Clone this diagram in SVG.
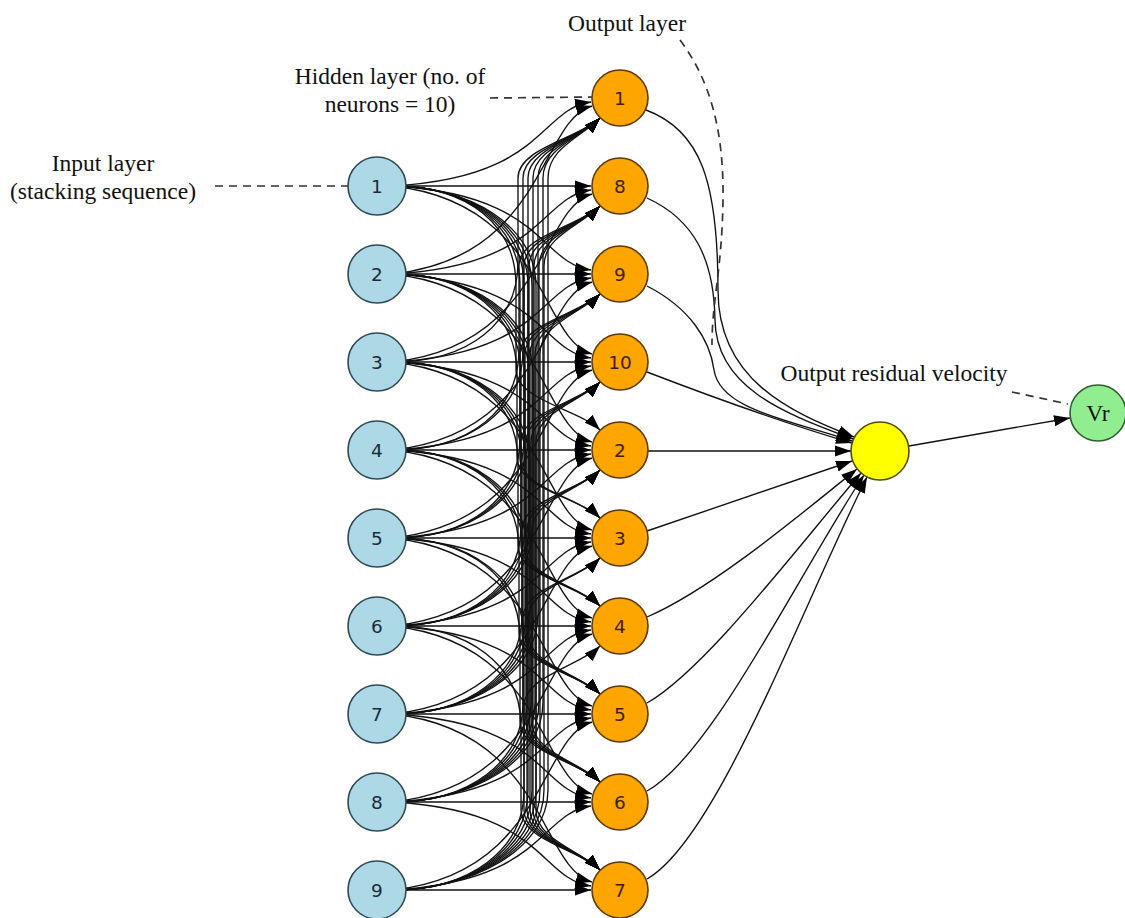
<svg xmlns="http://www.w3.org/2000/svg" width="1125" height="918" viewBox="0 0 1125 918">
<defs>
<marker id="ah" markerUnits="userSpaceOnUse" markerWidth="16" markerHeight="12" refX="16" refY="6" orient="auto">
<path d="M0,0.5 L16,6 L0,11.5 z" fill="#000"/>
</marker>
<style>
.e{fill:none;stroke:#111;stroke-width:1.35;marker-end:url(#ah)}
.dash{fill:none;stroke:#333;stroke-width:1.7;stroke-dasharray:8,6}
.lbl{font-family:"Liberation Serif","Times New Roman",serif;font-size:23.5px;fill:#111;text-anchor:middle}
.num{font-family:"DejaVu Sans",sans-serif;font-size:18.5px;text-anchor:middle;dominant-baseline:central}
.in circle{fill:#add8e6;stroke:#2f4a55;stroke-width:1.6}
.in text{fill:#1a2c3a}
.hid circle{fill:#ffa500;stroke:#5c3b00;stroke-width:1.6}
.hid text{fill:#3a2300}
</style>
</defs>
<rect width="1125" height="918" fill="#fff"/>
<g id="connectors">
<path class="e" d="M392,186 C545,178 539,109 591,102"/>
<path class="e" d="M392,186 L591,186"/>
<path class="e" d="M392,186 C545,194 539,263 591,270"/>
<path class="e" d="M392,186 C545,202 540,340 592,354"/>
<path class="e" d="M392,186 C470,186 516,226 516,286 L516,370 C516,400 580,410 600,430"/>
<path class="e" d="M392,186 C470,186 520,226 520,286 L520,458 C520,488 580,498 600,518"/>
<path class="e" d="M392,186 C470,186 524,226 524,286 L524,546 C524,576 580,586 600,606"/>
<path class="e" d="M392,186 C470,186 528,226 528,286 L528,634 C528,664 580,674 600,694"/>
<path class="e" d="M392,186 C470,186 532,226 532,286 L532,722 C532,752 580,762 600,782"/>
<path class="e" d="M392,186 C470,186 536,226 536,286 L536,810 C536,840 580,850 600,870"/>
<path class="e" d="M392,274 C545,258 540,120 592,106"/>
<path class="e" d="M392,274 C545,266 539,197 591,190"/>
<path class="e" d="M392,274 L591,274"/>
<path class="e" d="M392,274 C545,282 539,351 591,358"/>
<path class="e" d="M392,274 C545,290 540,428 592,442"/>
<path class="e" d="M392,274 C470,274 517,314 517,374 L517,458 C517,488 580,498 600,518"/>
<path class="e" d="M392,274 C470,274 521,314 521,374 L521,546 C521,576 580,586 600,606"/>
<path class="e" d="M392,274 C470,274 525,314 525,374 L525,634 C525,664 580,674 600,694"/>
<path class="e" d="M392,274 C470,274 529,314 529,374 L529,722 C529,752 580,762 600,782"/>
<path class="e" d="M392,274 C470,274 533,314 533,374 L533,810 C533,840 580,850 600,870"/>
<path class="e" d="M392,362 C470,362 518,322 518,262 L518,178 C518,148 580,138 600,118"/>
<path class="e" d="M392,362 C545,346 540,208 592,194"/>
<path class="e" d="M392,362 C545,354 539,285 591,278"/>
<path class="e" d="M392,362 L591,362"/>
<path class="e" d="M392,362 C545,370 539,439 591,446"/>
<path class="e" d="M392,362 C545,378 540,516 592,530"/>
<path class="e" d="M392,362 C470,362 518,402 518,462 L518,546 C518,576 580,586 600,606"/>
<path class="e" d="M392,362 C470,362 522,402 522,462 L522,634 C522,664 580,674 600,694"/>
<path class="e" d="M392,362 C470,362 526,402 526,462 L526,722 C526,752 580,762 600,782"/>
<path class="e" d="M392,362 C470,362 530,402 530,462 L530,810 C530,840 580,850 600,870"/>
<path class="e" d="M392,450 C470,450 523,410 523,350 L523,178 C523,148 580,138 600,118"/>
<path class="e" d="M392,450 C470,450 519,410 519,350 L519,266 C519,236 580,226 600,206"/>
<path class="e" d="M392,450 C545,434 540,296 592,282"/>
<path class="e" d="M392,450 C545,442 539,373 591,366"/>
<path class="e" d="M392,450 L591,450"/>
<path class="e" d="M392,450 C545,458 539,527 591,534"/>
<path class="e" d="M392,450 C545,466 540,604 592,618"/>
<path class="e" d="M392,450 C470,450 519,490 519,550 L519,634 C519,664 580,674 600,694"/>
<path class="e" d="M392,450 C470,450 523,490 523,550 L523,722 C523,752 580,762 600,782"/>
<path class="e" d="M392,450 C470,450 527,490 527,550 L527,810 C527,840 580,850 600,870"/>
<path class="e" d="M392,538 C470,538 528,498 528,438 L528,178 C528,148 580,138 600,118"/>
<path class="e" d="M392,538 C470,538 524,498 524,438 L524,266 C524,236 580,226 600,206"/>
<path class="e" d="M392,538 C470,538 520,498 520,438 L520,354 C520,324 580,314 600,294"/>
<path class="e" d="M392,538 C545,522 540,384 592,370"/>
<path class="e" d="M392,538 C545,530 539,461 591,454"/>
<path class="e" d="M392,538 L591,538"/>
<path class="e" d="M392,538 C545,546 539,615 591,622"/>
<path class="e" d="M392,538 C545,554 540,692 592,706"/>
<path class="e" d="M392,538 C470,538 520,578 520,638 L520,722 C520,752 580,762 600,782"/>
<path class="e" d="M392,538 C470,538 524,578 524,638 L524,810 C524,840 580,850 600,870"/>
<path class="e" d="M392,626 C470,626 533,586 533,526 L533,178 C533,148 580,138 600,118"/>
<path class="e" d="M392,626 C470,626 529,586 529,526 L529,266 C529,236 580,226 600,206"/>
<path class="e" d="M392,626 C470,626 525,586 525,526 L525,354 C525,324 580,314 600,294"/>
<path class="e" d="M392,626 C470,626 521,586 521,526 L521,442 C521,412 580,402 600,382"/>
<path class="e" d="M392,626 C545,610 540,472 592,458"/>
<path class="e" d="M392,626 C545,618 539,549 591,542"/>
<path class="e" d="M392,626 L591,626"/>
<path class="e" d="M392,626 C545,634 539,703 591,710"/>
<path class="e" d="M392,626 C545,642 540,780 592,794"/>
<path class="e" d="M392,626 C470,626 521,666 521,726 L521,810 C521,840 580,850 600,870"/>
<path class="e" d="M392,714 C470,714 538,674 538,614 L538,178 C538,148 580,138 600,118"/>
<path class="e" d="M392,714 C470,714 534,674 534,614 L534,266 C534,236 580,226 600,206"/>
<path class="e" d="M392,714 C470,714 530,674 530,614 L530,354 C530,324 580,314 600,294"/>
<path class="e" d="M392,714 C470,714 526,674 526,614 L526,442 C526,412 580,402 600,382"/>
<path class="e" d="M392,714 C470,714 522,674 522,614 L522,530 C522,500 580,490 600,470"/>
<path class="e" d="M392,714 C545,698 540,560 592,546"/>
<path class="e" d="M392,714 C545,706 539,637 591,630"/>
<path class="e" d="M392,714 L591,714"/>
<path class="e" d="M392,714 C545,722 539,791 591,798"/>
<path class="e" d="M392,714 C545,730 540,868 592,882"/>
<path class="e" d="M392,802 C470,802 543,762 543,702 L543,178 C543,148 580,138 600,118"/>
<path class="e" d="M392,802 C470,802 539,762 539,702 L539,266 C539,236 580,226 600,206"/>
<path class="e" d="M392,802 C470,802 535,762 535,702 L535,354 C535,324 580,314 600,294"/>
<path class="e" d="M392,802 C470,802 531,762 531,702 L531,442 C531,412 580,402 600,382"/>
<path class="e" d="M392,802 C470,802 527,762 527,702 L527,530 C527,500 580,490 600,470"/>
<path class="e" d="M392,802 C470,802 523,762 523,702 L523,618 C523,588 580,578 600,558"/>
<path class="e" d="M392,802 C545,786 540,648 592,634"/>
<path class="e" d="M392,802 C545,794 539,725 591,718"/>
<path class="e" d="M392,802 L591,802"/>
<path class="e" d="M392,802 C545,810 539,879 591,886"/>
<path class="e" d="M392,890 C470,890 548,850 548,790 L548,178 C548,148 580,138 600,118"/>
<path class="e" d="M392,890 C470,890 544,850 544,790 L544,266 C544,236 580,226 600,206"/>
<path class="e" d="M392,890 C470,890 540,850 540,790 L540,354 C540,324 580,314 600,294"/>
<path class="e" d="M392,890 C470,890 536,850 536,790 L536,442 C536,412 580,402 600,382"/>
<path class="e" d="M392,890 C470,890 532,850 532,790 L532,530 C532,500 580,490 600,470"/>
<path class="e" d="M392,890 C470,890 528,850 528,790 L528,618 C528,588 580,578 600,558"/>
<path class="e" d="M392,890 C470,890 524,850 524,790 L524,706 C524,676 580,666 600,646"/>
<path class="e" d="M392,890 C545,874 540,736 592,722"/>
<path class="e" d="M392,890 C545,882 539,813 591,806"/>
<path class="e" d="M392,890 L591,890"/>
<path class="e" d="M646,110 C700,130 718,180 718,290 C718,380 790,412 854,437"/>
<path class="e" d="M647,198 C695,220 714,260 715,320 C716,390 790,415 853,439"/>
<path class="e" d="M647,286 C690,308 710,340 714,370 C720,410 790,420 852,441"/>
<path class="e" d="M647,372 C720,400 790,425 852,443"/>
<path class="e" d="M648,451 L851,451"/>
<path class="e" d="M647,531 L852,461"/>
<path class="e" d="M647,617 C710,590 795,519 857,469"/>
<path class="e" d="M647,703 C705,670 796,549 861,473"/>
<path class="e" d="M647,791 C712,755 798,575 864,475"/>
<path class="e" d="M647,879 C717,839 800,611 867,477"/>
<path class="e" d="M909,446 L1070,418"/>
<path class="dash" d="M215,186 L348,186"/>
<path class="dash" d="M490,98 L592,97"/>
<path class="dash" d="M680,40 C710,80 724,130 723,200 C722,270 712,300 712,345"/>
<path class="dash" d="M1012,392 L1068,404"/>
</g>
<g id="labels">
<text class="lbl" x="103" y="171">Input layer</text>
<text class="lbl" x="103" y="199">(stacking sequence)</text>
<text class="lbl" x="390" y="84">Hidden layer (no. of</text>
<text class="lbl" x="390" y="112">neurons = 10)</text>
<text class="lbl" x="627" y="31">Output layer</text>
<text class="lbl" x="894" y="381">Output residual velocity</text>
</g>
<g id="in1" class="in"><circle cx="377" cy="186" r="29"/><text class="num" x="377" y="186">1</text></g>
<g id="in2" class="in"><circle cx="377" cy="274" r="29"/><text class="num" x="377" y="274">2</text></g>
<g id="in3" class="in"><circle cx="377" cy="362" r="29"/><text class="num" x="377" y="362">3</text></g>
<g id="in4" class="in"><circle cx="377" cy="450" r="29"/><text class="num" x="377" y="450">4</text></g>
<g id="in5" class="in"><circle cx="377" cy="538" r="29"/><text class="num" x="377" y="538">5</text></g>
<g id="in6" class="in"><circle cx="377" cy="626" r="29"/><text class="num" x="377" y="626">6</text></g>
<g id="in7" class="in"><circle cx="377" cy="714" r="29"/><text class="num" x="377" y="714">7</text></g>
<g id="in8" class="in"><circle cx="377" cy="802" r="29"/><text class="num" x="377" y="802">8</text></g>
<g id="in9" class="in"><circle cx="377" cy="890" r="29"/><text class="num" x="377" y="890">9</text></g>
<g id="h1" class="hid"><circle cx="620" cy="98" r="28"/><text class="num" x="620" y="98">1</text></g>
<g id="h8" class="hid"><circle cx="620" cy="186" r="28"/><text class="num" x="620" y="186">8</text></g>
<g id="h9" class="hid"><circle cx="620" cy="274" r="28"/><text class="num" x="620" y="274">9</text></g>
<g id="h10" class="hid"><circle cx="620" cy="362" r="28"/><text class="num" x="620" y="362">10</text></g>
<g id="h2" class="hid"><circle cx="620" cy="450" r="28"/><text class="num" x="620" y="450">2</text></g>
<g id="h3" class="hid"><circle cx="620" cy="538" r="28"/><text class="num" x="620" y="538">3</text></g>
<g id="h4" class="hid"><circle cx="620" cy="626" r="28"/><text class="num" x="620" y="626">4</text></g>
<g id="h5" class="hid"><circle cx="620" cy="714" r="28"/><text class="num" x="620" y="714">5</text></g>
<g id="h6" class="hid"><circle cx="620" cy="802" r="28"/><text class="num" x="620" y="802">6</text></g>
<g id="h7" class="hid"><circle cx="620" cy="890" r="28"/><text class="num" x="620" y="890">7</text></g>
<g id="out"><circle cx="880" cy="451" r="29" fill="#ffff00" stroke="#4d4d00" stroke-width="1.6"/></g>
<g id="vr"><circle cx="1098" cy="413" r="28" fill="#90ee90" stroke="#2e5e2e" stroke-width="1.6"/><text class="lbl" x="1098" y="421">Vr</text></g>
</svg>
